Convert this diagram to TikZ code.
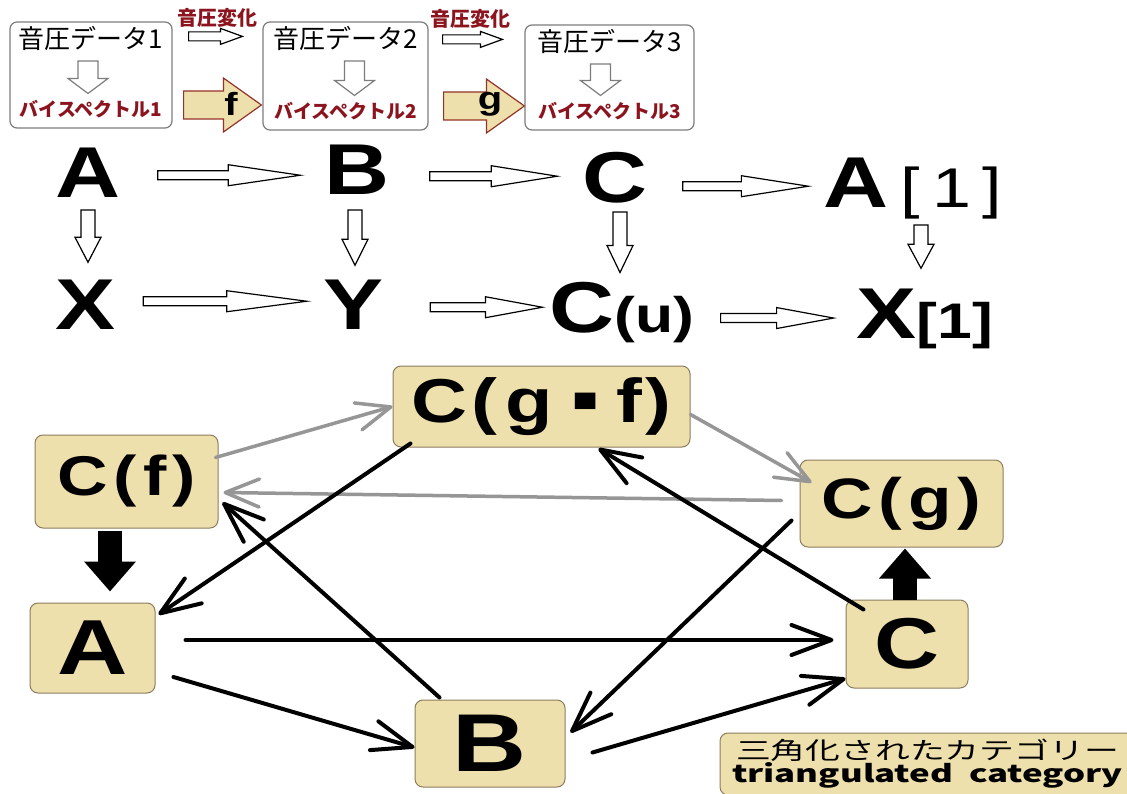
\documentclass[tikz,border=0pt]{standalone}
\usepackage{fontspec}
\usepackage{tikz}
\usetikzlibrary{calc,arrows.meta,positioning}

\newfontfamily\bigsans[FakeStretch=1.25]{Liberation Sans}
\newfontfamily\jp{Noto Sans CJK JP}
\newfontfamily\jpwide[FakeStretch=1.45]{Noto Sans CJK JP}

\definecolor{boxtan}{RGB}{238,224,172}
\definecolor{tanline}{RGB}{140,125,95}
\definecolor{darkred}{RGB}{140,20,30}
\definecolor{arrowred}{RGB}{150,50,40}
\definecolor{boxgray}{RGB}{125,125,125}
\definecolor{linegray}{RGB}{150,150,150}

% block arrows: style, start, end, shaft half, head half, head length
\newcommand{\blockh}[6]{%
  \draw[#1] let \p1=#2, \p2=#3 in
    (\x1,\y1+#4) -- (\x2-#6,\y1+#4) -- (\x2-#6,\y1+#5) -- (\x2,\y1)
    -- (\x2-#6,\y1-#5) -- (\x2-#6,\y1-#4) -- (\x1,\y1-#4) -- cycle;}
\newcommand{\blockv}[6]{%
  \draw[#1] let \p1=#2, \p2=#3 in
    (\x1-#4,\y1) -- (\x1-#4,\y2+#6) -- (\x1-#5,\y2+#6) -- (\x1,\y2)
    -- (\x1+#5,\y2+#6) -- (\x1+#4,\y2+#6) -- (\x1+#4,\y1) -- cycle;}

\begin{document}
\begin{tikzpicture}[x=1pt,y=-1pt,
    topbox/.style={draw=boxgray, line width=1.2pt, rounded corners=7pt, fill=white, inner sep=0pt},
    sdata/.style={inner sep=0pt, font=\jp\fontsize{26pt}{26pt}\selectfont},
    bspec/.style={inner sep=0pt, text=darkred, font=\jp\bfseries\fontsize{19pt}{19pt}\selectfont},
    changetext/.style={inner sep=0pt, text=darkred, font=\jp\bfseries\fontsize{20pt}{20pt}\selectfont},
    mapname/.style={inner sep=0pt, font=\bigsans\bfseries\fontsize{32pt}{32pt}\selectfont},
    hollow/.style={draw=black, fill=white, line width=1.2pt},
    hollowgray/.style={draw=boxgray, fill=white, line width=1.2pt},
    tanarrow/.style={draw=arrowred, fill=boxtan, line width=1.2pt},
    letter/.style={inner sep=0pt, anchor=base, font=\bigsans\bfseries\fontsize{72pt}{72pt}\selectfont},
    tanbox/.style={draw=tanline, fill=boxtan, line width=1pt, rounded corners=8pt, inner sep=0pt,
      font=\bigsans\bfseries\fontsize{#1}{#1}\selectfont},
    conn/.style={line width=4pt, line cap=round, -{Straight Barb[round,length=40pt,width=30pt]}},
    grayconn/.style={linegray, line width=3.5pt, line cap=round, -{Straight Barb[round,length=34pt,width=28pt]}},
    fatarrow/.style={line width=24pt, -{Triangle[length=30pt,width=50pt]}}]

    \fill[white] (0,0) rectangle (1127,794);
    \useasboundingbox (0,0) rectangle (1127,794);

    \node[topbox, minimum width=162pt, minimum height=106pt] (box1) at (91,75) {};
    \node[topbox, minimum width=165pt, minimum height=108pt] (box2) at (345.5,76) {};
    \node[topbox, minimum width=169pt, minimum height=105pt] (box3) at (609.5,77.5) {};

    \node[sdata, below=5pt of box1.north] (sd1) {音圧データ1};
    \node[sdata, below=5pt of box2.north] (sd2) {音圧データ2};
    \node[sdata, below=5pt of box3.north] (sd3) {音圧データ3};
    \node[bspec, above=10pt of box1.south] (bs1) {バイスペクトル1};
    \node[bspec, above=10pt of box2.south] (bs2) {バイスペクトル2};
    \node[bspec, above=10pt of box3.south] (bs3) {バイスペクトル3};

    \blockv{hollowgray}{($(sd1.south)+(-3,10)$)}{($(bs1.north)+(-3,-7)$)}{10pt}{20pt}{15pt}
    \blockv{hollowgray}{($(sd2.south)+(9,10)$)}{($(bs2.north)+(9,-7)$)}{10pt}{20pt}{15pt}
    \blockv{hollowgray}{($(sd3.south)+(-9,10)$)}{($(bs3.north)+(-9,-7)$)}{10pt}{20pt}{15pt}

    \node[changetext] (ch1) at ($(box1.north east)!.5!(box2.north west)+(0,-3)$) {音圧変化};
    \node[changetext] (ch2) at ($(box2.north east)!.5!(box3.north west)+(-6,-4)$) {音圧変化};
    \blockh{hollow}{($(box1.north east)+(16,15)$)}{($(box2.north west)+(-20,15)$)}{4.5pt}{8pt}{22pt}
    \blockh{hollow}{($(box2.north east)+(14,18)$)}{($(box3.north west)+(-22,15)$)}{4.5pt}{8pt}{22pt}

    \blockh{tanarrow}{($(box1.east)+(11,30)$)}{($(box2.west)+(-1,29)$)}{14pt}{27pt}{38pt}
    \blockh{tanarrow}{($(box2.east)+(15,30)$)}{($(box3.west)+(0,29)$)}{14pt}{27pt}{38pt}
    \node[mapname] (fname) at (231,104) {f};
    \node[mapname] (gname) at (490,104) {g};

    \node[letter] (tA) at (88,198) {A};
    \node[letter] (tB) at (357,195) {B};
    \node[letter] (tC) at (615,203) {C};
    \node[letter] (tA1) at (913,208) {A\kern12pt{\mdseries\fontsize{56pt}{56pt}\selectfont[\kern12pt1\kern12pt]}};
    \node[letter] (tX) at (86,330) {X};
    \node[letter] (tY) at (354,330) {Y};
    \node[letter] (tCu) at (622,333) {C{\fontsize{50pt}{50pt}\selectfont(u)}};
    \node[letter] (tX1) at (925,338) {X{\fontsize{50pt}{50pt}\selectfont[1]}};

    \blockh{hollow}{($(tA.east)+(37,2)$)}{($(tB.west)+(-24,0)$)}{4.5pt}{10.5pt}{72pt}
    \blockh{hollow}{($(tB.east)+(40,6)$)}{($(tC.west)+(-25,0)$)}{4.5pt}{10.5pt}{66pt}
    \blockh{hollow}{($(tC.east)+(35,8)$)}{($(tA1.west)+(-15,0)$)}{4.5pt}{10.5pt}{67pt}
    \blockh{hollow}{($(tX.east)+(27,-4)$)}{($(tY.west)+(-17,0)$)}{4.5pt}{10.5pt}{80pt}
    \blockh{hollow}{($(tY.east)+(46,2)$)}{($(tCu.west)+(-7,0)$)}{4.5pt}{10.5pt}{57pt}
    \blockh{hollow}{($(tCu.east)+(26,5)$)}{($(tX1.west)+(-23,0)$)}{4.5pt}{10.5pt}{57pt}

    \blockv{hollow}{($(tA.base)+(0,12)$)}{($(tX.north)+(2,-18)$)}{7pt}{13pt}{25pt}
    \blockv{hollow}{($(tB.base)+(-2,15)$)}{($(tY.north)+(1,-15)$)}{7pt}{13pt}{26pt}
    \blockv{hollow}{($(tC.base)+(5,9)$)}{($(tCu.north)+(-2,-10)$)}{7pt}{13pt}{27pt}
    \blockv{hollow}{($(tA1.base)+(8,17)$)}{($(tX1.north)+(-5,-20)$)}{7pt}{13pt}{24pt}

    \node[tanbox=62pt, minimum width=297pt, minimum height=81pt] (bCgf) at (541.5,406.5)
      {C\kern4pt(\kern8pt g\kern20pt\raisebox{11pt}{\fontsize{34pt}{34pt}\selectfont■}\kern18pt f\kern4pt)};
    \node[tanbox=56pt, minimum width=183pt, minimum height=93pt] (bCf) at (126.5,481.5) {C\kern6pt(\kern6pt f\kern6pt)};
    \node[tanbox=57pt, minimum width=203pt, minimum height=87pt] (bCg) at (901.5,503.5) {C\kern6pt(\kern6pt g\kern6pt)};
    \node[tanbox=78pt, minimum width=125pt, minimum height=90pt] (bA) at (92.5,648) {A};
    \node[tanbox=72pt, minimum width=122pt, minimum height=88pt] (bC) at (907,644) {C};
    \node[tanbox=82pt, minimum width=150pt, minimum height=87pt] (bB) at (490,743.5) {B};
    \node[tanbox=24pt, minimum width=415pt, minimum height=62pt, align=center,
      font=\jpwide\fontsize{24pt}{21pt}\selectfont] (cap) at (927.5,764)
      {三角化されたカテゴリー\\{\bfseries triangulated\ \ category}};

    \draw[fatarrow] ($(bCf.south)+(-16.5,2)$) -- ($(bA.north)+(17.5,-11)$);
    \draw[fatarrow] ($(bC.north)+(-2,0)$) -- ($(bCg.south)+(3.5,1)$);

    \draw[grayconn] ($(bCf.east)+(-3,-24)$) -- (bCgf.west);
    \draw[grayconn] ($(bCgf.east)+(0,8)$) -- ($(bCg.west)+(12,-21)$);
    \draw[grayconn] ($(bCg.west)+(-18,-3)$) -- ($(bCf.east)+(5,11)$);

    \draw[conn] ($(bCgf.south west)+(18,-4)$) -- ($(bA.north east)+(3,12)$);
    \draw[conn] ($(bB.north west)+(25,-2)$) -- ($(bCf.east)+(4,21)$);
    \draw[conn] ($(bC.north west)+(18,10)$) -- ($(bCgf.south)+(57,1)$);
    \draw[conn] ($(bCg.west)+(-8,17)$) -- ($(bB.east)+(5,-11)$);
    \draw[conn] ($(bA.east)+(30,-8)$) -- ($(bC.west)+(-12,-4)$);
    \draw[conn] ($(bA.east)+(18,29)$) -- ($(bB.west)+(0,4)$);
    \draw[conn] ($(bB.east)+(27,9)$) -- ($(bC.south west)+(0,-10)$);
\end{tikzpicture}
\end{document}
